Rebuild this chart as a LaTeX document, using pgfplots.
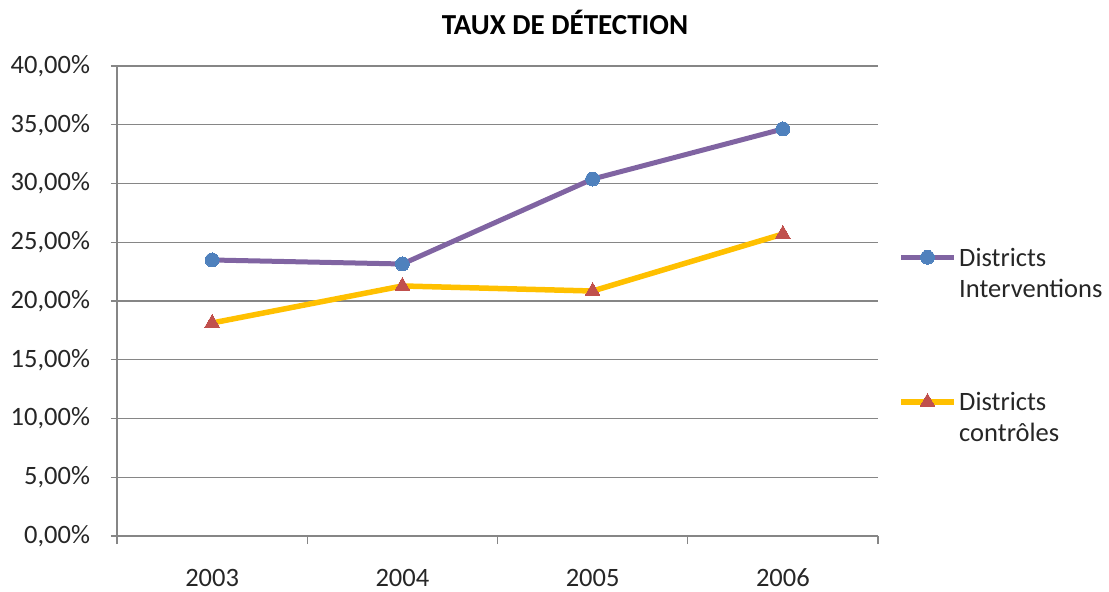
\documentclass[border=0pt]{standalone}
\usepackage{pgfplots}
\pgfplotsset{compat=1.18}
\usepackage{fontspec}
\setmainfont{Carlito}
\definecolor{gridgray}{HTML}{868686}
\definecolor{purp}{HTML}{8064A2}
\definecolor{blu}{HTML}{4F81BD}
\definecolor{yel}{HTML}{FFC000}
\definecolor{redm}{HTML}{C0504D}
\begin{document}
\fontsize{26.5}{31}\selectfont
\begin{tikzpicture}[x=1pt,y=1pt]
\useasboundingbox (-117,-56) rectangle (992,536);
\begin{axis}[
  at={(0,0)}, anchor=south west,
  scale only axis, width=761pt, height=470pt,
  xmin=0, xmax=4, ymin=0, ymax=40,
  axis lines=left,
  axis line style={-, draw=gridgray, line width=1.2pt},
  xtick={0.5,1.5,2.5,3.5},
  xticklabels={2003,2004,2005,2006},
  minor xtick={0,1,2,3,4},
  xtick style={draw=none},
  minor tick length=8pt,
  minor x tick style={draw=gridgray, line width=1.2pt},
  ytick={0,5,...,40},
  major tick length=6pt,
  tick align=outside,
  y tick style={draw=gridgray, line width=1.2pt},
  ymajorgrids,
  grid style={draw=gridgray, line width=1.2pt},
  /pgf/number format/assume math mode=true,
  yticklabel={\pgfmathprintnumber[fixed,fixed zerofill,precision=2,use comma]{\tick}\%},
  ticklabel style={font=\fontsize{26.5}{31}\selectfont, text=black!85},
  yticklabel style={anchor=east, xshift=-12pt},
  xticklabel style={yshift=-18pt},
  legend style={draw=none, fill=none, at={(1.027,0.625)}, anchor=north west,
    font=\fontsize{26.5}{31}\selectfont, row sep=115pt,
    cells={anchor=west}, text=black!85, inner sep=0pt},
  legend image code/.code={
    \draw[#1, mark repeat=2, mark phase=2] plot coordinates {(0pt,0pt) (26pt,0pt) (53pt,0pt)};
  },
]
\addplot[purp, line width=5pt, mark=*, mark size=7pt, mark options={fill=blu, draw=blu, line width=0pt}]
  coordinates {(0.5,23.49) (1.5,23.15) (2.5,30.38) (3.5,34.64)};
\addlegendentry{\begin{tabular}[t]{@{}l@{}}Districts\\Interventions\end{tabular}}
\addplot[yel, line width=5.5pt, mark=triangle*, mark size=8.5pt, mark options={fill=redm, draw=redm, line width=0pt}]
  coordinates {(0.5,18.13) (1.5,21.28) (2.5,20.85) (3.5,25.70)};
\addlegendentry{\begin{tabular}[t]{@{}l@{}}Districts\\contrôles\end{tabular}}
\end{axis}
\node[font=\bfseries\fontsize{29}{33}\selectfont] at (448,514) {TAUX DE DÉTECTION};
\end{tikzpicture}
\end{document}
